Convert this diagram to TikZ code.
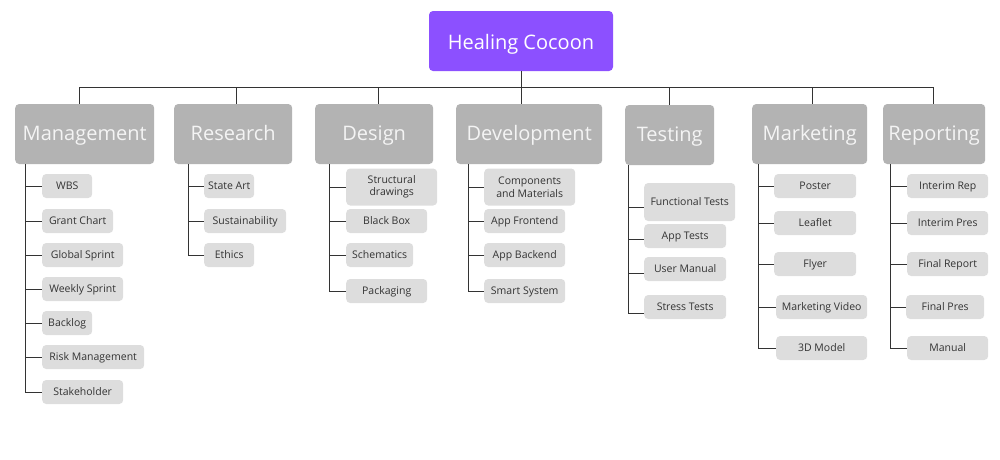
\documentclass[tikz,border=0pt]{standalone}
\usepackage{fontspec}
\setmainfont{Open Sans}
\definecolor{rootc}{HTML}{8C50FF}
\definecolor{lone}{HTML}{B3B3B3}
\definecolor{ltwo}{HTML}{DDDDDD}
\definecolor{ltxt}{HTML}{F4F4F4}
\definecolor{ctxt}{HTML}{333333}
\definecolor{linec}{HTML}{333333}
\begin{document}
\begin{tikzpicture}[x=1pt,y=-1pt,
  rootbox/.style={fill=rootc, rounded corners=4pt, minimum width=184pt, minimum height=60pt, text=white, font=\fontsize{20}{24}\selectfont, inner sep=0pt, text height=16pt, text depth=0pt},
  topbox/.style={fill=lone, rounded corners=4pt, minimum height=60pt, text=ltxt, font=\fontsize{20}{24}\selectfont, inner sep=0pt, anchor=west, text height=14pt, text depth=2pt},
  chbase/.style={fill=ltwo, rounded corners=4pt, minimum height=24pt, text=ctxt, font=\fontsize{10.5}{12.5}\selectfont, inner sep=0pt, anchor=west, align=center},
  ch/.style={chbase, text height=8pt, text depth=1pt},
  ln/.style={draw=linec, line width=1pt}]
\useasboundingbox (0,0) rectangle (1000,459);
\node[rootbox] (root) at (521,41) {Healing Cocoon};
\coordinate (bus) at (521,87);
% level 1
\node[topbox, minimum width=139pt] (mg) at (15,134) {Management};
\node[topbox, minimum width=118pt] (re) at (174,134) {Research};
\node[topbox, minimum width=118pt] (de) at (315,134) {Design};
\node[topbox, minimum width=146pt] (dv) at (456,134) {Development};
\node[topbox, minimum width=89pt] (te) at (625,135) {Testing};
\node[topbox, minimum width=115pt] (mk) at (752,134) {Marketing};
\node[topbox, minimum width=102pt] (rp) at (883,134) {Reporting};
\draw[ln] (root.south) -- (bus);
\draw[ln] ([xshift=-5.5pt]mg.north) |- (bus);
\draw[ln] ([xshift=3pt]re.north) |- (bus);
\draw[ln] ([xshift=4pt]de.north) |- (bus);
\draw[ln] ([xshift=-8pt]dv.north) |- (bus);
\draw[ln] ([xshift=-0.5pt]te.north) |- (bus);
\draw[ln] ([xshift=2.5pt]mk.north) |- (bus);
\draw[ln] ([xshift=-1pt]rp.north) |- (bus);
% Management
\node[ch, minimum width=50pt] (wbs) at (42,186) {WBS};
\node[ch, minimum width=71pt] (gc) at (42,221) {Grant Chart};
\node[ch, minimum width=81pt] (gs) at (42,255) {Global Sprint};
\node[ch, minimum width=81pt] (ws) at (42,289) {Weekly Sprint};
\node[ch, minimum width=50pt] (bl) at (42,323) {Backlog};
\node[ch, minimum width=102pt] (rm) at (42,357) {Risk Management};
\node[ch, minimum width=81pt] (sh) at (42,392) {Stakeholder};
\foreach \c in {wbs,gc,gs,ws,bl,rm,sh} \draw[ln] ([xshift=10pt]mg.south west) |- (\c.west);
% Research
\node[ch, minimum width=50pt] (sa) at (204,186) {State Art};
\node[ch, minimum width=82pt] (su) at (204,221) {Sustainability};
\node[ch, minimum width=50pt] (et) at (204,255) {Ethics};
\foreach \c in {sa,su,et} \draw[ln] ([xshift=14pt]re.south west) |- (\c.west);
% Design
\node[chbase, minimum width=91pt, minimum height=37pt] (sd) at (346,187) {Structural\\drawings};
\node[ch, minimum width=81pt] (bb) at (346,221) {Black Box};
\node[ch, minimum width=67pt] (sc) at (346,255) {Schematics};
\node[ch, minimum width=81pt] (pk) at (346,291) {Packaging};
\foreach \c in {sd,bb,sc,pk} \draw[ln] ([xshift=14pt]de.south west) |- (\c.west);
% Development
\node[chbase, minimum width=91pt, minimum height=37pt] (cm) at (484,187) {Components\\and Materials};
\node[ch, minimum width=81pt] (af) at (484,221) {App Frontend};
\node[ch, minimum width=81pt] (ab) at (484,255) {App Backend};
\node[ch, minimum width=81pt] (ss) at (484,291) {Smart System};
\foreach \c in {cm,af,ab,ss} \draw[ln] ([xshift=12pt]dv.south west) |- (\c.west);
% Testing
\node[ch, minimum width=91pt, minimum height=38pt] (ft) at (644,202) {Functional Tests};
\node[ch, minimum width=82pt] (at) at (644,236) {App Tests};
\node[ch, minimum width=82pt] (um) at (644,269) {User Manual};
\node[ch, minimum width=82pt] (st) at (644,307) {Stress Tests};
\draw[ln] ([xshift=3pt]te.south west) |- ([yshift=-5pt]ft.west);
\draw[ln] ([xshift=3pt]te.south west) |- ([yshift=-3pt]at.west);
\draw[ln] ([xshift=3pt]te.south west) |- ([yshift=-4pt]um.west);
\draw[ln] ([xshift=3pt]te.south west) |- ([yshift=-6pt]st.west);
% Marketing
\node[ch, minimum width=82pt] (po) at (774,186) {Poster};
\node[ch, minimum width=82pt] (lf) at (774,223) {Leaflet};
\node[ch, minimum width=82pt] (fl) at (774,264) {Flyer};
\node[ch, minimum width=91pt] (mv) at (776,307) {Marketing Video};
\node[ch, minimum width=91pt] (md) at (776,348) {3D Model};
\foreach \c in {po,lf,fl,mv,md} \draw[ln] ([xshift=6pt]mk.south west) |- (\c.west);
% Reporting
\node[ch, minimum width=81pt] (ir) at (907,186) {Interim Rep};
\node[ch, minimum width=81pt] (ip) at (907,223) {Interim Pres};
\node[ch, minimum width=81pt] (fr) at (907,264) {Final Report};
\node[ch, minimum width=78pt] (fp) at (906,307) {Final Pres};
\node[ch, minimum width=81pt] (ma) at (907,348) {Manual};
\foreach \c in {ir,ip,fr,fp,ma} \draw[ln] ([xshift=7pt]rp.south west) |- (\c.west);
\end{tikzpicture}
\end{document}
